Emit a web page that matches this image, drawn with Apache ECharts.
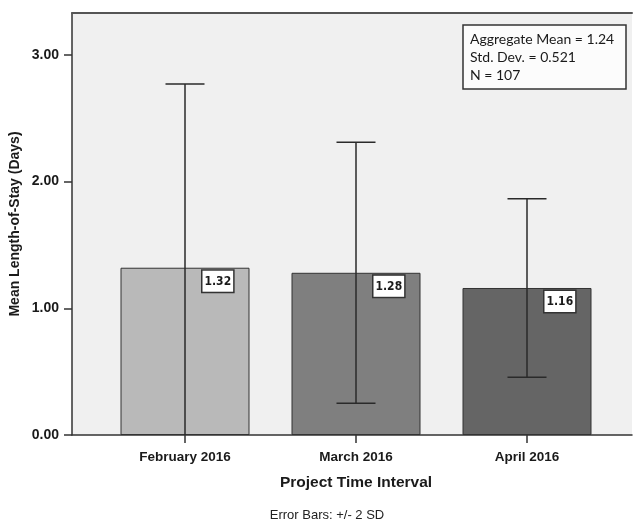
<!DOCTYPE html>
<html>
<head>
<meta charset="utf-8">
<script src="https://cdn.jsdelivr.net/npm/echarts@6/dist/echarts.min.js"></script>
<style>
html,body{margin:0;padding:0;background:#fff;}
#chart{width:635px;height:521px;}
</style>
</head>
<body>
<div id="chart"></div>
<script>
// ---- data ----
var categories = ['February 2016', 'March 2016', 'April 2016'];
var means = [1.32, 1.28, 1.16];
var errHigh = [2.77, 2.31, 1.865];   // mean + 2 SD
var errLow = [-0.13, 0.25, 0.455];   // mean - 2 SD
var yTicks = [0, 1, 2, 3];
var yMin = 0, yMax = 3.33;
var barColors = ['#b9b9b9', '#7f7f7f', '#656565'];
var infoLines = ['Aggregate Mean = 1.24', 'Std. Dev. = 0.521', 'N = 107'];
var xTitle = 'Project Time Interval';
var yTitle = 'Mean Length-of-Stay (Days)';
var footnote = 'Error Bars: +/- 2 SD';

var chart = echarts.init(document.getElementById('chart'), null, {renderer: 'canvas'});
var ink = '#1a1a1a';
var axisCol = '#333';

var option = {
  backgroundColor: '#ffffff',
  animation: false,
  title: [
    {
      text: infoLines.join('\n'),
      left: 463, top: 25,
      backgroundColor: '#fcfcfc',
      borderColor: '#333', borderWidth: 1.5,
      padding: [5, 12, 5, 7],
      textStyle: {fontFamily: 'Lato', fontSize: 14, fontWeight: 'normal', color: ink, lineHeight: 18}
    },
    {
      text: footnote,
      left: 322, top: 504, textAlign: 'center',
      textStyle: {fontFamily: 'Liberation Sans', fontSize: 13, fontWeight: 'normal', color: '#222'}
    }
  ],
  grid: [
    {left: 71, right: 3, top: 13, bottom: 86, show: true, backgroundColor: '#f0f0f0', borderWidth: 0},
    {left: 99.5, right: 22.5, top: 13, bottom: 86}
  ],
  xAxis: [
    {
      gridIndex: 0, type: 'value', min: 0, max: 1, position: 'bottom',
      axisLine: {show: true, lineStyle: {color: axisCol, width: 1.5}},
      axisTick: {show: false}, axisLabel: {show: false}, splitLine: {show: false}
    },
    {
      gridIndex: 0, type: 'value', min: 0, max: 1, position: 'top',
      axisLine: {show: true, lineStyle: {color: '#555', width: 2}},
      axisTick: {show: false}, axisLabel: {show: false}, splitLine: {show: false}
    },
    {
      gridIndex: 1, type: 'category', data: categories, position: 'bottom',
      axisLine: {show: false},
      axisTick: {show: true, alignWithLabel: true, length: 8, lineStyle: {color: axisCol, width: 1.5}},
      axisLabel: {margin: 15, fontFamily: 'Liberation Sans', fontWeight: 'bold', fontSize: 13.5, color: ink},
      name: xTitle, nameLocation: 'middle', nameGap: 40, nameMoveOverlap: false,
      nameTextStyle: {fontFamily: 'Liberation Sans', fontWeight: 'bold', fontSize: 15.5, color: ink}
    }
  ],
  yAxis: [
    {
      gridIndex: 0, type: 'value', min: yMin, max: yMax,
      axisLine: {show: true, lineStyle: {color: axisCol, width: 1.5}},
      axisTick: {show: true, length: 8, customValues: yTicks, lineStyle: {color: axisCol, width: 1.5}},
      axisLabel: {customValues: yTicks, margin: 13, fontFamily: 'Liberation Sans', fontWeight: 'bold', fontSize: 14, color: ink,
        formatter: function (v) { return v.toFixed(2); }},
      splitLine: {show: false},
      name: yTitle, nameLocation: 'middle', nameGap: 57, nameRotate: 90, nameMoveOverlap: false,
      nameTextStyle: {fontFamily: 'Liberation Sans', fontWeight: 'bold', fontSize: 14, color: ink, verticalAlign: 'middle'}
    },
    {
      gridIndex: 1, type: 'value', min: yMin, max: yMax, show: false
    }
  ],
  series: [
    {
      type: 'bar', xAxisIndex: 2, yAxisIndex: 1, barWidth: 129,
      data: means.map(function (v, i) {
        return {value: v, itemStyle: {color: barColors[i]}};
      }),
      itemStyle: {borderColor: '#333', borderWidth: 1},
      label: {
        show: true, position: [82, 3], align: 'left', verticalAlign: 'top',
        formatter: function (p) { return p.value.toFixed(2); },
        fontFamily: '"DejaVu Sans Condensed", "Liberation Sans"', fontWeight: 'bold', fontSize: 12, color: ink,
        backgroundColor: '#ffffff', borderColor: '#333', borderWidth: 1.5,
        padding: [5, 2, 4, 2]
      },
      z: 2
    },
    {
      type: 'custom', xAxisIndex: 2, yAxisIndex: 1, z: 3,
      data: categories.map(function (c, i) { return [i, Math.max(errLow[i], yMin), errHigh[i]]; }),
      renderItem: function (params, api) {
        var x = api.value(0);
        var lo = api.coord([x, api.value(1)]);
        var hi = api.coord([x, api.value(2)]);
        var half = 19.5;
        var style = {stroke: '#2a2a2a', lineWidth: 1.5, fill: null};
        var children = [
          {type: 'line', shape: {x1: hi[0], y1: hi[1], x2: lo[0], y2: lo[1]}, style: style},
          {type: 'line', shape: {x1: hi[0] - half, y1: hi[1], x2: hi[0] + half, y2: hi[1]}, style: style}
        ];
        if (api.value(1) > yMin) {
          children.push({type: 'line', shape: {x1: lo[0] - half, y1: lo[1], x2: lo[0] + half, y2: lo[1]}, style: style});
        }
        return {type: 'group', children: children};
      }
    }
  ]
};
chart.setOption(option);
</script>
</body>
</html>
